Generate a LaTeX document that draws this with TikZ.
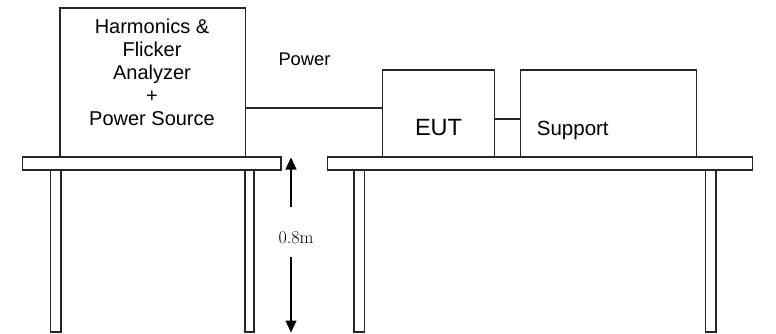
\documentclass[tikz,border=0pt]{standalone}
\usepackage{fontspec}
\newfontfamily\arial{Liberation Sans}
\usetikzlibrary{arrows.meta}
\begin{document}
\begin{tikzpicture}[x=1pt,y=-1pt,
  part/.style={draw=black!85, line width=1.1pt, rectangle, inner sep=0pt, outer sep=0pt},
  wire/.style={draw=black!85, line width=1.1pt},
  dimarrow/.style={draw=black, line width=1.1pt, -{Triangle[width=11pt,length=12pt]}},
  lbl/.style={inner sep=0pt, font=\arial}
]
\useasboundingbox (0,0) rectangle (776,333);
% left table
\node[part, minimum width=185.7pt, minimum height=149pt] (analyzer) at (152.85,82.5) {};
\node[part, minimum width=258.3pt, minimum height=13pt] (ltop) at (151.85,163.5) {};
\node[part, minimum width=10.5pt, minimum height=162pt] (lleg1) at (55.75,251) {};
\node[part, minimum width=9pt, minimum height=162pt] (lleg2) at (249.5,251) {};
% right table
\node[part, minimum width=425pt, minimum height=13pt] (rtop) at (540.2,163.5) {};
\node[part, minimum width=10.5pt, minimum height=162pt] (rleg1) at (359.25,251) {};
\node[part, minimum width=10.5pt, minimum height=162pt] (rleg2) at (710.75,251) {};
\node[part, minimum width=111.6pt, minimum height=87pt] (eut) at (438.5,113.5) {};
\node[part, minimum width=175.6pt, minimum height=87pt] (support) at (608.5,113.5) {};
% texts
\node[lbl, align=center, font=\arial\fontsize{20}{23}\selectfont] (antext) at (152,72)
  {Harmonics \&\\Flicker\\Analyzer\\+\\Power Source};
\node[lbl, anchor=base, font=\arial\fontsize{23.5}{26}\selectfont] (euttext) at (438.5,135.7) {EUT};
\node[lbl, anchor=base west, font=\arial\fontsize{20.5}{24}\selectfont] (suptext) at (536.7,135) {Support};
\node[lbl, anchor=base west, font=\arial\fontsize{18.3}{22}\selectfont] (powtext) at (278.3,65) {Power};
\node[inner sep=0pt, anchor=base, font=\fontsize{18}{22}\selectfont] (height) at (296,243.3) {0.8m};
% connectors
\coordinate (pw) at (0,108);
\coordinate (es) at (0,119);
\draw[wire] (pw -| analyzer.east) -- (pw -| eut.west);
\draw[wire] (es -| eut.east) -- (es -| support.west);
% dimension arrow
\coordinate (arrtop) at (291,157.5);
\coordinate (arrup) at (291,206.7);
\coordinate (arrdown) at (291,256.7);
\coordinate (arrbot) at (291,332.5);
\draw[dimarrow] (arrup) -- (arrtop);
\draw[dimarrow] (arrdown) -- (arrbot);
\end{tikzpicture}
\end{document}
